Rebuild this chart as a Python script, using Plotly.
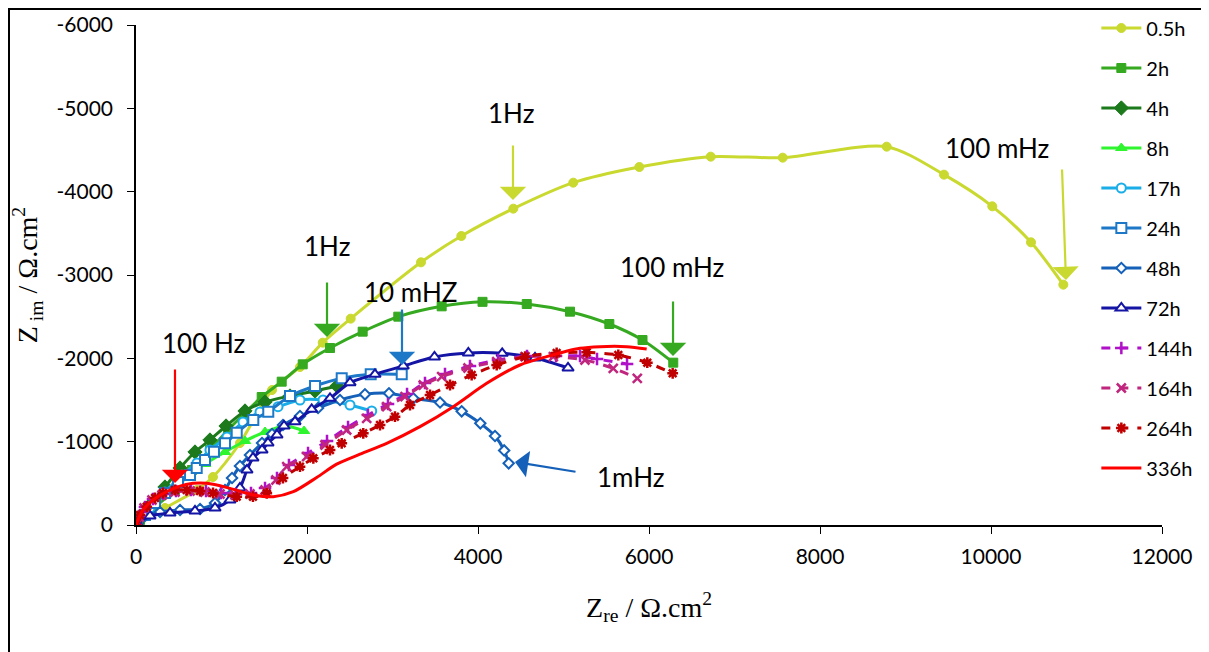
import plotly.graph_objects as go

# ---------------- data (Zre, Zim in ohm.cm2) ----------------
series_names = ["0.5h", "2h", "4h", "8h", "17h", "24h", "48h", "72h", "144h", "164h", "264h", "336h"]

x_05h = [0, 47, 339, 713, 900, 1216, 1591, 1918, 2184, 2511, 3333, 3805, 4413, 5114, 5887, 6722, 7564, 8780, 9450, 10015, 10468, 10846]
y_05h = [0, -36, -204, -420, -576, -984, -1620, -1896, -2188, -2476, -3152, -3468, -3796, -4108, -4296, -4420, -4408, -4540, -4204, -3824, -3392, -2884]

x_2h = [0, 47, 222, 456, 655, 865, 1076, 1275, 1470, 1704, 1950, 2269, 2651, 3068, 3575, 4053, 4570, 5076, 5536, 5924, 6284]
y_2h = [0, -60, -216, -420, -660, -900, -1140, -1344, -1536, -1720, -1928, -2124, -2320, -2500, -2624, -2678, -2652, -2560, -2412, -2220, -1948]

x_4h = [0, 12, 164, 339, 515, 690, 865, 1053, 1275, 1509, 1801, 2094, 2351]
y_4h = [0, -24, -240, -456, -684, -876, -1020, -1188, -1368, -1476, -1548, -1608, -1668]

x_8h = [0, 12, 164, 339, 573, 807, 1041, 1275, 1509, 1743, 1965]
y_8h = [0, -24, -180, -360, -564, -732, -876, -1008, -1116, -1188, -1128]

x_17h = [0, 12, 164, 339, 538, 713, 865, 1064, 1251, 1450, 1661, 1918, 2187, 2503, 2757]
y_17h = [0, -24, -204, -396, -600, -744, -900, -1056, -1236, -1356, -1420, -1500, -1500, -1440, -1368]

x_24h = [0, 12, 105, 222, 339, 491, 632, 710, 807, 912, 1041, 1178, 1372, 1547, 1801, 2094, 2406, 2745, 3108]
y_24h = [0, -12, -120, -264, -384, -516, -600, -684, -780, -880, -980, -1108, -1260, -1360, -1548, -1668, -1760, -1808, -1808]

x_48h = [0, 12, 105, 281, 515, 749, 924, 1041, 1123, 1216, 1333, 1474, 1591, 1719, 1918, 2129, 2386, 2678, 2959, 3243, 3556, 3809, 4027, 4199, 4306, 4359]
y_48h = [0, -12, -108, -156, -180, -192, -264, -420, -564, -708, -840, -984, -1092, -1200, -1308, -1404, -1500, -1568, -1580, -1520, -1470, -1364, -1220, -1068, -895, -740]

x_72h = [0, 12, 164, 398, 690, 924, 1099, 1216, 1298, 1368, 1474, 1544, 1649, 1731, 1860, 2055, 2269, 2503, 2795, 3126, 3491, 3887, 4283, 4667, 5053]
y_72h = [0, -12, -108, -144, -168, -204, -300, -444, -660, -804, -900, -984, -1080, -1188, -1240, -1388, -1520, -1708, -1808, -1908, -2016, -2064, -2060, -2004, -1884]

x_144h = [0, 35, 105, 199, 316, 468, 643, 819, 994, 1170, 1345, 1509, 1649, 1789, 2012, 2234, 2480, 2713, 2947, 3170, 3380, 3614, 3906, 4234, 4573, 4912, 5193, 5392, 5743]
y_144h = [0, -108, -216, -312, -372, -408, -420, -408, -384, -372, -384, -444, -564, -720, -864, -1008, -1176, -1320, -1452, -1572, -1704, -1812, -1908, -1980, -2028, -2028, -2028, -1992, -1932]

x_164h = [0, 35, 94, 187, 304, 456, 632, 807, 982, 1158, 1333, 1509, 1637, 1763, 1996, 2211, 2464, 2698, 2932, 3146, 3360, 3575, 3883, 4219, 4550, 4881, 5251, 5582, 5863]
y_164h = [0, -96, -204, -300, -360, -396, -408, -396, -372, -360, -372, -420, -540, -700, -820, -960, -1140, -1280, -1420, -1540, -1680, -1780, -1884, -1960, -2020, -2020, -1980, -1880, -1760]

x_264h = [0, 47, 125, 222, 316, 456, 593, 749, 901, 1178, 1368, 1529, 1719, 1918, 2074, 2269, 2406, 2658, 2854, 3029, 3205, 3439, 3673, 3926, 4219, 4550, 4920, 5271, 5641, 5980, 6277]
y_264h = [0, -120, -220, -324, -384, -420, -420, -408, -384, -340, -340, -380, -564, -700, -800, -900, -980, -1100, -1200, -1300, -1440, -1560, -1680, -1800, -1920, -2020, -2064, -2072, -2040, -1948, -1820]

x_336h = [0, 23, 82, 199, 351, 585, 827, 1099, 1372, 1606, 1840, 2113, 2347, 2620, 2932, 3322, 3711, 4102, 4491, 4803, 5193, 5427, 5739, 5973]
y_336h = [0, -60, -180, -300, -396, -486, -500, -440, -360, -340, -400, -570, -730, -850, -980, -1180, -1420, -1700, -1920, -2020, -2120, -2140, -2140, -2112]

x_tick_values = [0, 2000, 4000, 6000, 8000, 10000, 12000]
x_tick_labels = ["0", "2000", "4000", "6000", "8000", "10000", "12000"]
y_tick_values = [0, -1000, -2000, -3000, -4000, -5000, -6000]
y_tick_labels = ["0", "-1000", "-2000", "-3000", "-4000", "-5000", "-6000"]

# ---------------- styles ----------------
series_x = [x_05h, x_2h, x_4h, x_8h, x_17h, x_24h, x_48h, x_72h, x_144h, x_164h, x_264h, x_336h]
series_y = [y_05h, y_2h, y_4h, y_8h, y_17h, y_24h, y_48h, y_72h, y_144h, y_164h, y_264h, y_336h]

styles = [
    dict(color="#C9D92F", symbol="circle", fill=True, size=9, dash="solid"),
    dict(color="#35A91F", symbol="square", fill=True, size=9, dash="solid"),
    dict(color="#1C7A1C", symbol="diamond", fill=True, size=11, dash="solid"),
    dict(color="#2EF52E", symbol="triangle-up", fill=True, size=10, dash="solid"),
    dict(color="#1AAEE8", symbol="circle", fill=False, size=9, dash="solid"),
    dict(color="#1E78C8", symbol="square", fill=False, size=10, dash="solid"),
    dict(color="#1560B8", symbol="diamond", fill=False, size=8, dash="solid"),
    dict(color="#1515A5", symbol="triangle-up", fill=False, size=10, dash="solid"),
    dict(color="#B010C8", symbol="cross-thin", fill=True, size=9, dash="dash"),
    dict(color="#C0267E", symbol="x-thin", fill=True, size=9, dash="dash"),
    dict(color="#C00000", symbol="asterisk", fill=True, size=9, dash="dash"),
    dict(color="#FF0000", symbol=None, fill=True, size=0, dash="solid"),
]

fig = go.Figure()
for name, xs, ys, st in zip(series_names, series_x, series_y, styles):
    if st["symbol"] is None:
        mode = "lines"
        marker = dict()
    else:
        mode = "lines+markers"
        if st["symbol"] in ("cross-thin", "x-thin", "asterisk"):
            marker = dict(symbol=st["symbol"], size=st["size"], color=st["color"],
                          line=dict(color=st["color"], width=2.5))
        elif st["fill"]:
            marker = dict(symbol=st["symbol"], size=st["size"], color=st["color"],
                          line=dict(color=st["color"], width=1))
        else:
            marker = dict(symbol=st["symbol"], size=st["size"], color="white",
                          line=dict(color=st["color"], width=2))
    fig.add_trace(go.Scatter(
        x=xs, y=ys, name=name, mode=mode, legendgroup=name,
        line=dict(color=st["color"], width=3, shape="spline", smoothing=0.8, dash=st["dash"]),
        marker=marker,
    ))

# ---------------- annotations ----------------
text_font = dict(family="Lato, Open Sans, sans-serif", size=26, color="black")
labels = [
    ("1Hz", 4386, -4944),
    ("100 mHz", 10070, -4524),
    ("1Hz", 2234, -3348),
    ("100 mHz", 6269, -3096),
    ("10 mHZ", 3216, -2796),
    ("100 Hz", 784, -2184),
    ("1mHz", 5789, -576),
]
for t, xx, yy in labels:
    fig.add_annotation(x=xx, y=yy, text=t, showarrow=False, font=text_font,
                       xanchor="center", yanchor="middle")

arrows = [
    (4409, -3900, 0, -56, "#C9D92F"),
    (10877, -2940, -4, -112, "#C9D92F"),
    (2234, -2256, 0, -56, "#35A91F"),
    (6281, -2028, 0, -56, "#35A91F"),
    (3111, -1920, 0, -57, "#1E78C8"),
    (456, -504, 0, -115, "#FF0000"),
    (4433, -756, 62, 10, "#1560B8"),
]
for xx, yy, ax, ay, c in arrows:
    fig.add_annotation(x=xx, y=yy, ax=ax, ay=ay, text="", showarrow=True,
                       arrowhead=1, arrowsize=2.0, arrowwidth=2.2, arrowcolor=c,
                       standoff=0)

# outer frame (page body has an 8px offset)
fig.add_shape(type="rect", xref="paper", yref="paper",
              x0=(1 - 128) / 1026, x1=1.3, y0=-0.5, y1=1 + 16 / 500,
              line=dict(color="black", width=2), layer="below")

tick_font = dict(family="Lato, Open Sans, sans-serif", size=21, color="black")
title_font = dict(family="Liberation Serif, Times New Roman, serif", size=28, color="black")

fig.update_layout(
    width=1209, height=652,
    margin=dict(l=128, r=55, t=17, b=135, autoexpand=False),
    paper_bgcolor="white", plot_bgcolor="white",
    showlegend=True,
    legend=dict(x=0.936, y=1.033, xanchor="left", yanchor="top",
                font=dict(family="Lato, Open Sans, sans-serif", size=20, color="black"),
                tracegroupgap=11, bgcolor="rgba(0,0,0,0)", itemwidth=40, maxheight=640),
    xaxis=dict(range=[0, 12000], tickvals=x_tick_values, ticktext=x_tick_labels,
               showgrid=False, zeroline=False, showline=True, linecolor="black", linewidth=1.5,
               ticks="outside", ticklen=7, tickcolor="black", tickfont=tick_font,
               ticklabelstandoff=5,
               title=dict(text="Z<sub>re</sub> / Ω.cm<sup>2</sup>", font=title_font, standoff=30)),
    yaxis=dict(range=[0, -6000], tickvals=y_tick_values, ticktext=y_tick_labels,
               showgrid=False, zeroline=False, showline=True, linecolor="black", linewidth=1.5,
               ticks="outside", ticklen=7, tickcolor="black", tickfont=tick_font,
               ticklabelstandoff=10,
               title=dict(text="Z<sub> im</sub> / Ω.cm<sup>2</sup>", font=title_font, standoff=11)),
)

fig.write_html("out.html")
